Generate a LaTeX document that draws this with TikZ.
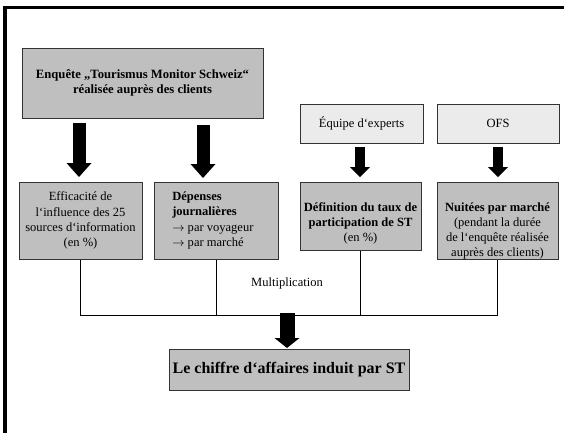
\documentclass[tikz,border=0pt]{standalone}
\usepackage{fontspec}
\setmainfont{Liberation Serif}
\usetikzlibrary{calc}
\begin{document}
\begin{tikzpicture}[x=0.75pt,y=-0.75pt,
    box/.style={draw=black!80,line width=0.75pt,fill=black!25,inner sep=0pt,align=center,font=\fontsize{9.4}{11.3}\selectfont},
    srcbox/.style={box,fill=black!8},
    txt/.style={inner sep=0pt,align=center,font=\fontsize{9.4}{11.3}\selectfont}]
\useasboundingbox (0,0) rectangle (564,433);
    % frame
    \draw[line width=2.6pt] (564,7.5) -- (5,7.5) -- (5,433);

    % sources
    \node[box,minimum width=180.75pt,minimum height=52.5pt,font=\bfseries\fontsize{9.5}{10.7}\selectfont] (enq) at (142.5,83) {Enquête „Tourismus Monitor Schweiz“\\réalisée auprès des clients};
    \node[srcbox,minimum width=92.25pt,minimum height=29.25pt] (equ) at (361.5,123.5) {Équipe d‘experts};
    \node[srcbox,minimum width=91.5pt,minimum height=29.25pt] (ofs) at (498,123.5) {OFS};

    % factors
    \node[box,minimum width=92.25pt,minimum height=57.75pt] (eff) at (80.5,220.5) {Efficacité de\\l‘influence des 25\\sources d‘information\\(en \%)};
    \node[box,minimum width=93pt,minimum height=57.75pt] (dep) at (216,220.5) {};
    \node[txt,align=left,anchor=west] (dep-t) at (172,220.5) {\textbf{Dépenses}\\\textbf{journalières}\\$\rightarrow$ par voyageur\\$\rightarrow$ par marché};
    \node[box,minimum width=90.75pt,minimum height=51pt] (def) at (360.5,216) {};
    \node[txt,anchor=north] (def-t) at ($(def.north)+(0,21)$) {\textbf{Définition du taux de}\\\textbf{participation de ST}\\(en \%)};
    \node[box,minimum width=90.75pt,minimum height=57.75pt] (nui) at (497.5,220.5) {};
    \node[txt,anchor=north] (nui-t) at ($(nui.north)+(0,21)$) {\textbf{Nuitées par marché}\\(pendant la durée\\de l‘enquête réalisée\\auprès des clients)};

    % result
    \node[box,minimum width=180pt,minimum height=30.75pt,font=\bfseries\fontsize{12}{14}\selectfont] (chf) at (289,369.5) {Le chiffre d‘affaires induit par ST};

    \coordinate (j) at (287,315);
    \draw[line width=0.75pt] (eff.south) |- (nui.south |- j) -- (nui.south);
    \draw[line width=0.75pt] (dep.south) -- (dep.south |- j);
    \draw[line width=0.75pt] (def.south) -- (def.south |- j);
    \node[txt] (mul) at (287,283) {Multiplication};

    % fat arrows
    \coordinate (s1) at (79,123);  \coordinate (t1) at (79,177);
    \coordinate (s2) at (203,125); \coordinate (t2) at (203,178);
    \coordinate (s3) at (360,147); \coordinate (t3) at (360,177);
    \coordinate (s4) at (498,147); \coordinate (t4) at (498,177);
    \coordinate (s5) at (287,313); \coordinate (t5) at (287,348);
\foreach \a/\b/\s/\w/\l in {s1/t1/13/25/14,s2/t2/13/25/14,s3/t3/10/20/10,s4/t4/10/20/10,s5/t5/15/25/10}{
    \draw[line width=\s*0.75pt] (\a) -- ($(\b)+(0,-\l+1)$);
    \fill ($(\b)+(-\w/2,-\l)$) -- ($(\b)+(\w/2,-\l)$) -- (\b) -- cycle;
}
\end{tikzpicture}
\end{document}
